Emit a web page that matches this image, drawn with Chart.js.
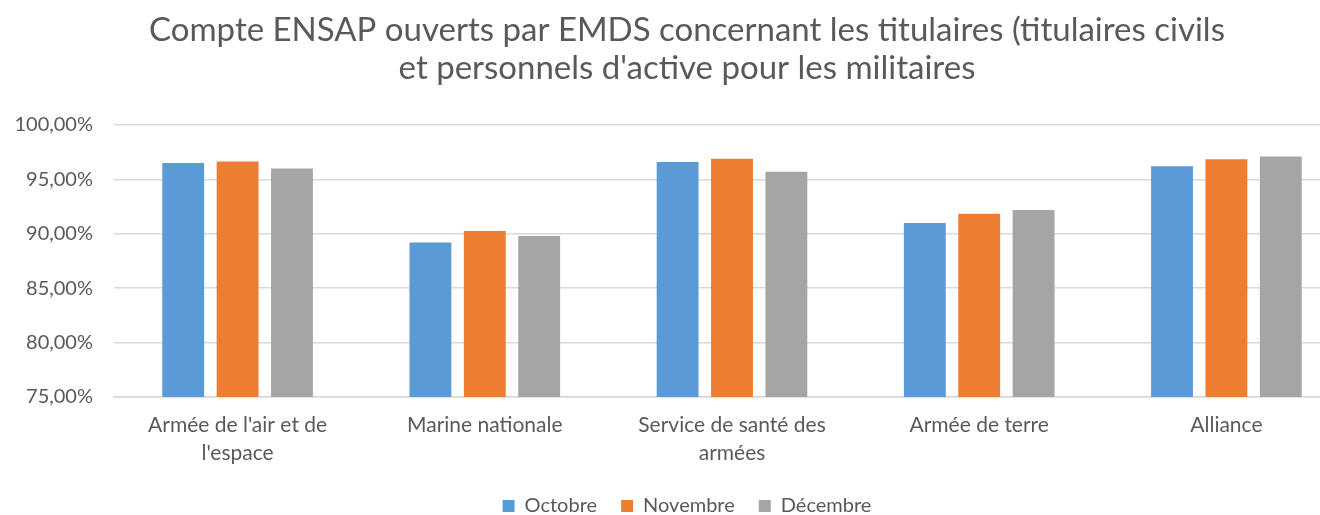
<!DOCTYPE html>
<html><head><meta charset="utf-8">
<script src="https://cdn.jsdelivr.net/npm/chart.js@4/dist/chart.umd.min.js"></script>
<style>
html,body{margin:0;padding:0;overflow:hidden;background:#fff;width:1320px;height:515px}
#wrap{position:absolute;left:0;top:0;width:1376px;height:526px}
</style>
</head><body><div id="wrap"><canvas id="c" width="1376" height="526"></canvas></div>
<script>
const categories = [["Armée de l'air et de", "l'espace"], "Marine nationale", ["Service de santé des", "armées"], "Armée de terre", "Alliance"];
const seriesNames = ["Octobre", "Novembre", "Décembre"];
const octobre = [96.5, 89.2, 96.6, 91.0, 96.2];
const novembre = [96.65, 90.25, 96.9, 91.85, 96.85];
const decembre = [96.0, 89.8, 95.7, 92.2, 97.1];
const yMin = 75, yMax = 100, yStep = 5;
const titleLines = ["Compte ENSAP ouverts par EMDS concernant les titulaires (titulaires civils", "et personnels d'active pour les militaires"];
const colors = ["#5b9bd5", "#ed7d31", "#a5a5a5"];

const txt = "#595959";
const grid = "#d9d9d9";

const centerShift = {
  id: 'centerShift',
  afterLayout(chart) {
    if (chart.titleBlock) { chart.titleBlock.left = 24; }
    if (chart.legend) { chart.legend.left = 24; }
  }
};

new Chart(document.getElementById('c'), {
  type: 'bar',
  data: {
    labels: categories,
    datasets: [octobre, novembre, decembre].map((d, i) => ({
      label: seriesNames[i], data: d, backgroundColor: colors[i],
      categoryPercentage: 0.66, barPercentage: 0.77
    }))
  },
  plugins: [centerShift],
  options: {
    responsive: false, animation: false,
    layout: { padding: { left: 0, right: 26, top: 11, bottom: 0 } },
    plugins: {
      title: { display: true, text: titleLines, color: txt,
        font: { family: 'Lato', size: 33, weight: 'normal', lineHeight: 1.167 },
        padding: { top: 0, bottom: 37 } },
      legend: { position: 'bottom',
        labels: { color: txt, font: { family: 'Lato', size: 20 }, boxWidth: 12, boxHeight: 12, padding: 24 } },
      tooltip: { enabled: false }
    },
    scales: {
      x: {
        grid: { display: false },
        border: { display: true, color: grid, width: 1.5 },
        ticks: { color: txt, font: { family: 'Lato', size: 21, lineHeight: 1.333 }, padding: 6, maxRotation: 0, autoSkip: false },
        afterFit: s => { s.height = 75; }
      },
      y: {
        min: yMin, max: yMax,
        grid: { color: grid, lineWidth: 1.5, drawTicks: false },
        border: { display: false },
        ticks: { stepSize: yStep, color: txt, font: { family: 'Lato', size: 20 }, padding: 21,
          callback: v => v.toFixed(2).replace('.', ',') + '%' },
        afterFit: s => { s.width = 114; }
      }
    }
  }
});
</script>
</body></html>
